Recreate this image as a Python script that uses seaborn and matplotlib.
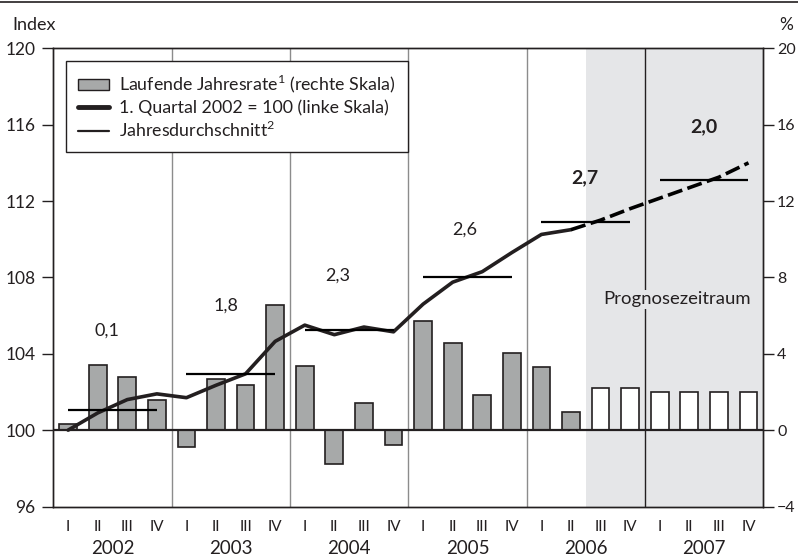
import numpy as np
import pandas as pd
import matplotlib
matplotlib.use("Agg")
import matplotlib.pyplot as plt
from matplotlib.lines import Line2D
from matplotlib.patches import Patch
import seaborn as sns

# ------------------------------
# Data
# ------------------------------
years = ["2002", "2003", "2004", "2005", "2006", "2007"]
quarters = ["I", "II", "III", "IV"]

# index, 1. Quartal 2002 = 100 (left scale)
index_vals = [100.0, 100.9, 101.6, 101.9,
              101.7, 102.35, 102.95, 104.65,
              105.5, 105.0, 105.4, 105.15,
              106.6, 107.75, 108.3, 109.3,
              110.25, 110.5, 111.0, 111.6,
              112.15, 112.7, 113.25, 114.0]

# running annual rate in % (right scale)
rate_vals = [0.3, 3.4, 2.8, 1.6,
             -0.9, 2.7, 2.35, 6.55,
             3.35, -1.75, 1.4, -0.8,
             5.7, 4.55, 1.85, 4.05,
             3.3, 0.95, 2.2, 2.2,
             2.0, 2.0, 2.0, 2.0]

# annual averages of the index and growth labels
annual_avg = [101.08, 102.92, 105.27, 108.03, 110.9, 113.1]
annual_growth = ["0,1", "1,8", "2,3", "2,6", "2,7", "2,0"]
growth_bold = [False, False, False, False, True, True]

first_forecast = 18  # 2006 Q3

n = len(index_vals)
pos = np.arange(n)
df = pd.DataFrame({
    "pos": pos,
    "index": index_vals,
    "rate": rate_vals,
    "status": ["Ist" if i < first_forecast else "Prognose" for i in pos],
})

# ------------------------------
# Style
# ------------------------------
sns.set_style("white")
plt.rcParams["font.family"] = ["Lato", "DejaVu Sans"]
plt.rcParams["font.size"] = 12.5
plt.rcParams["mathtext.fontset"] = "custom"
plt.rcParams["mathtext.rm"] = "Lato"

dark = "#231f20"
bar_gray = "#a7a9a9"
shade = "#e5e6e8"
grid_gray = "#8c8c8c"

fig = plt.figure(figsize=(7.98, 5.59), dpi=100)
ax = fig.add_axes([0.0668, 0.0939, 0.8897, 0.8197])
ax2 = ax.twinx()
ax.set_zorder(ax2.get_zorder() + 1)
ax.patch.set_visible(False)

# background: forecast shading + year separators (on lower axis)
ax2.axvspan(first_forecast - 0.5, n - 0.5, color=shade, lw=0, zorder=0)
for k in range(1, len(years)):
    x = 4 * k - 0.5
    c = dark if x > first_forecast else grid_gray
    ax2.axvline(x, color=c, lw=1, zorder=1)

# bars on right scale
sns.barplot(data=df, x="pos", y="rate", hue="status",
            palette={"Ist": bar_gray, "Prognose": "white"},
            dodge=False, width=0.6, edgecolor=dark, linewidth=1.2,
            legend=False, ax=ax2, zorder=2)
ax2.axhline(0, color=dark, lw=1.6, zorder=3)

# index line on left scale
sns.lineplot(data=df[df.pos <= first_forecast - 1], x="pos", y="index",
             color=dark, lw=2.6, ax=ax)
sns.lineplot(data=df[df.pos >= first_forecast - 1], x="pos", y="index",
             color="black", lw=2.6, ax=ax, linestyle=(0, (4.2, 1.5)))

# annual averages
for k, avg in enumerate(annual_avg):
    ax.hlines(avg, 4 * k, 4 * k + 3, color="black", lw=1.6, zorder=4)

# growth labels
label_pos = [(1.3, 105.2), (5.35, 106.5), (9.1, 108.1),
             (13.4, 110.5), (17.45, 113.2), (21.5, 115.9)]
for (x, y), txt, b in zip(label_pos, annual_growth, growth_bold):
    ax.text(x, y, txt, ha="center", va="center",
            fontsize=14 if b else 13,
            fontweight="bold" if b else "normal", color=dark)

ax.text(20.6, 106.85, "Prognosezeitraum", ha="center", va="center",
        fontsize=13.3, color=dark,
        bbox=dict(facecolor=shade, edgecolor="none", pad=1))

# axes
ax.set_xlim(-0.5, n - 0.5)
ax.set_ylim(96, 120)
ax2.set_ylim(-4, 20)
ax.set_yticks(np.arange(96, 121, 4))
ax2.set_yticks(np.arange(-4, 21, 4))
ax.set_ylabel("")
ax2.set_ylabel("")
ax.set_xlabel("")
ax2.set_xlabel("")

ax.set_xticks(np.arange(-0.5, n, 1))
ax.set_xticklabels([""] * (n + 1))
ax.set_xticks(pos, minor=True)
ax.set_xticklabels(quarters * len(years), minor=True, fontsize=11)
ax.tick_params(axis="x", which="major", direction="out", length=8,
               width=1, color=dark)
ax.tick_params(axis="x", which="minor", length=0, pad=9.5, colors=dark)
ax.tick_params(axis="y", direction="out", length=8, width=1,
               color=dark, pad=5, labelcolor=dark, labelsize=12.5)
ax2.tick_params(axis="y", direction="out", length=8, width=1,
                color=dark, pad=2, labelcolor=dark, labelsize=11.5)

for a in (ax, ax2):
    for s in a.spines.values():
        s.set_color(dark)
        s.set_linewidth(1)

for k, yr in enumerate(years):
    ax.annotate(yr, xy=(4 * k + 1.5, 0), xycoords=("data", "axes fraction"),
                xytext=(0, -30), textcoords="offset points",
                ha="center", va="center", color=dark, fontsize=13.5)

fig.text(0.015, 0.955, "Index", ha="left", va="center", color=dark,
         fontsize=13)
fig.text(0.977, 0.955, "%", ha="left", va="center", color=dark,
         fontsize=12.5)
fig.add_artist(Line2D([0, 1], [0.996, 0.996], color=dark, lw=1.2))

# legend
handles = [Patch(facecolor=bar_gray, edgecolor=dark, lw=1),
           Line2D([], [], color=dark, lw=3.5),
           Line2D([], [], color=dark, lw=1.6)]
labels = [r"Laufende Jahresrate$^\mathregular{1}$ (rechte Skala)",
          "1. Quartal 2002 = 100 (linke Skala)",
          r"Jahresdurchschnitt$^\mathregular{2}$"]
leg = ax.legend(handles, labels, loc="upper left",
                bbox_to_anchor=(0.0175, 0.973), borderaxespad=0,
                frameon=True, fancybox=False, handlelength=1.75,
                handleheight=0.6, handletextpad=0.55, labelspacing=0.22,
                borderpad=0.7, framealpha=1, fontsize=12.8)
leg.get_frame().set_edgecolor(dark)
leg.get_frame().set_linewidth(1)
for t in leg.get_texts():
    t.set_color(dark)

plt.savefig("out.png", dpi=100)
